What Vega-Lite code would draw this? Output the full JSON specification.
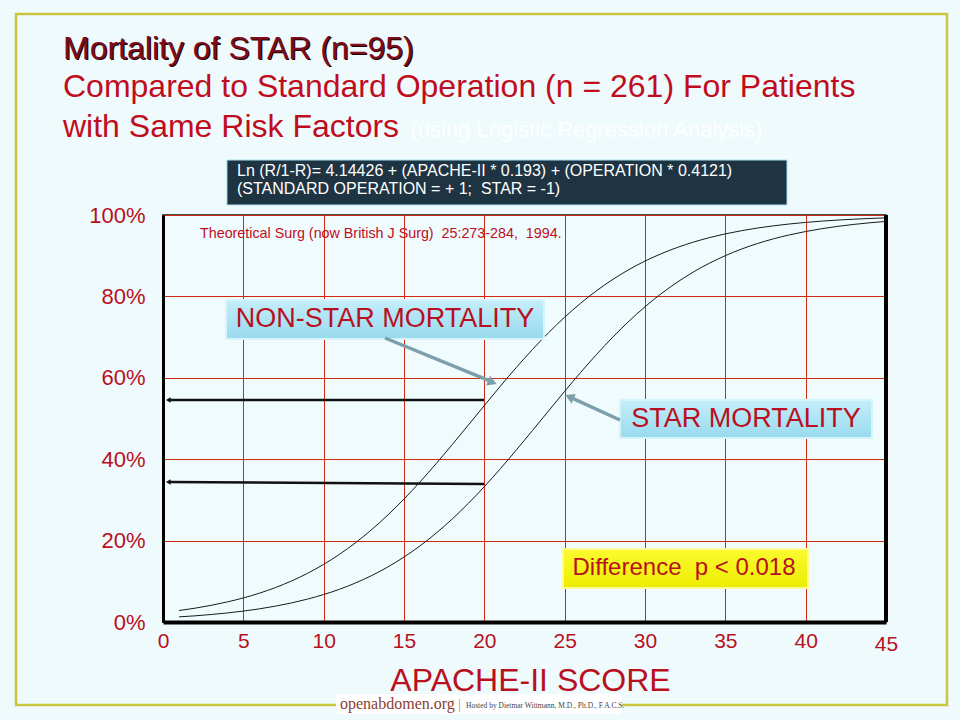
{
  "$schema": "https://vega.github.io/schema/vega-lite/v6.json",
  "width": 723,
  "height": 407,
  "autosize": {"type": "none"},
  "padding": {"left": 163, "top": 215, "right": 74, "bottom": 98},
  "background": "#eefafc",
  "config": {
    "view": {"fill": "#effbfd", "stroke": "#111111", "strokeWidth": 1.5},
    "font": "Liberation Sans",
    "text": {"font": "Liberation Sans"}
  },
  "layer": [
    {
      "data": {"values": [
        {"apache": 1, "series": "NON-STAR", "mortality": 0.0282},
        {"apache": 2, "series": "NON-STAR", "mortality": 0.0340},
        {"apache": 3, "series": "NON-STAR", "mortality": 0.0410},
        {"apache": 4, "series": "NON-STAR", "mortality": 0.0493},
        {"apache": 5, "series": "NON-STAR", "mortality": 0.0591},
        {"apache": 6, "series": "NON-STAR", "mortality": 0.0708},
        {"apache": 7, "series": "NON-STAR", "mortality": 0.0846},
        {"apache": 8, "series": "NON-STAR", "mortality": 0.1008},
        {"apache": 9, "series": "NON-STAR", "mortality": 0.1197},
        {"apache": 10, "series": "NON-STAR", "mortality": 0.1416},
        {"apache": 11, "series": "NON-STAR", "mortality": 0.1667},
        {"apache": 12, "series": "NON-STAR", "mortality": 0.1953},
        {"apache": 13, "series": "NON-STAR", "mortality": 0.2274},
        {"apache": 14, "series": "NON-STAR", "mortality": 0.2630},
        {"apache": 15, "series": "NON-STAR", "mortality": 0.3021},
        {"apache": 16, "series": "NON-STAR", "mortality": 0.3443},
        {"apache": 17, "series": "NON-STAR", "mortality": 0.3891},
        {"apache": 18, "series": "NON-STAR", "mortality": 0.4358},
        {"apache": 19, "series": "NON-STAR", "mortality": 0.4837},
        {"apache": 20, "series": "NON-STAR", "mortality": 0.5319},
        {"apache": 21, "series": "NON-STAR", "mortality": 0.5795},
        {"apache": 22, "series": "NON-STAR", "mortality": 0.6257},
        {"apache": 23, "series": "NON-STAR", "mortality": 0.6697},
        {"apache": 24, "series": "NON-STAR", "mortality": 0.7109},
        {"apache": 25, "series": "NON-STAR", "mortality": 0.7489},
        {"apache": 26, "series": "NON-STAR", "mortality": 0.7834},
        {"apache": 27, "series": "NON-STAR", "mortality": 0.8144},
        {"apache": 28, "series": "NON-STAR", "mortality": 0.8418},
        {"apache": 29, "series": "NON-STAR", "mortality": 0.8659},
        {"apache": 30, "series": "NON-STAR", "mortality": 0.8868},
        {"apache": 31, "series": "NON-STAR", "mortality": 0.9047},
        {"apache": 32, "series": "NON-STAR", "mortality": 0.9201},
        {"apache": 33, "series": "NON-STAR", "mortality": 0.9332},
        {"apache": 34, "series": "NON-STAR", "mortality": 0.9443},
        {"apache": 35, "series": "NON-STAR", "mortality": 0.9536},
        {"apache": 36, "series": "NON-STAR", "mortality": 0.9614},
        {"apache": 37, "series": "NON-STAR", "mortality": 0.9680},
        {"apache": 38, "series": "NON-STAR", "mortality": 0.9734},
        {"apache": 39, "series": "NON-STAR", "mortality": 0.9780},
        {"apache": 40, "series": "NON-STAR", "mortality": 0.9818},
        {"apache": 41, "series": "NON-STAR", "mortality": 0.9849},
        {"apache": 42, "series": "NON-STAR", "mortality": 0.9876},
        {"apache": 43, "series": "NON-STAR", "mortality": 0.9897},
        {"apache": 44, "series": "NON-STAR", "mortality": 0.9915},
        {"apache": 45, "series": "NON-STAR", "mortality": 0.9930},
        {"apache": 1, "series": "STAR", "mortality": 0.0126},
        {"apache": 2, "series": "STAR", "mortality": 0.0152},
        {"apache": 3, "series": "STAR", "mortality": 0.0184},
        {"apache": 4, "series": "STAR", "mortality": 0.0222},
        {"apache": 5, "series": "STAR", "mortality": 0.0268},
        {"apache": 6, "series": "STAR", "mortality": 0.0323},
        {"apache": 7, "series": "STAR", "mortality": 0.0390},
        {"apache": 8, "series": "STAR", "mortality": 0.0469},
        {"apache": 9, "series": "STAR", "mortality": 0.0563},
        {"apache": 10, "series": "STAR", "mortality": 0.0675},
        {"apache": 11, "series": "STAR", "mortality": 0.0806},
        {"apache": 12, "series": "STAR", "mortality": 0.0962},
        {"apache": 13, "series": "STAR", "mortality": 0.1143},
        {"apache": 14, "series": "STAR", "mortality": 0.1354},
        {"apache": 15, "series": "STAR", "mortality": 0.1596},
        {"apache": 16, "series": "STAR", "mortality": 0.1872},
        {"apache": 17, "series": "STAR", "mortality": 0.2183},
        {"apache": 18, "series": "STAR", "mortality": 0.2530},
        {"apache": 19, "series": "STAR", "mortality": 0.2912},
        {"apache": 20, "series": "STAR", "mortality": 0.3326},
        {"apache": 21, "series": "STAR", "mortality": 0.3767},
        {"apache": 22, "series": "STAR", "mortality": 0.4230},
        {"apache": 23, "series": "STAR", "mortality": 0.4707},
        {"apache": 24, "series": "STAR", "mortality": 0.5189},
        {"apache": 25, "series": "STAR", "mortality": 0.5668},
        {"apache": 26, "series": "STAR", "mortality": 0.6134},
        {"apache": 27, "series": "STAR", "mortality": 0.6580},
        {"apache": 28, "series": "STAR", "mortality": 0.7001},
        {"apache": 29, "series": "STAR", "mortality": 0.7390},
        {"apache": 30, "series": "STAR", "mortality": 0.7745},
        {"apache": 31, "series": "STAR", "mortality": 0.8064},
        {"apache": 32, "series": "STAR", "mortality": 0.8347},
        {"apache": 33, "series": "STAR", "mortality": 0.8597},
        {"apache": 34, "series": "STAR", "mortality": 0.8814},
        {"apache": 35, "series": "STAR", "mortality": 0.9001},
        {"apache": 36, "series": "STAR", "mortality": 0.9162},
        {"apache": 37, "series": "STAR", "mortality": 0.9299},
        {"apache": 38, "series": "STAR", "mortality": 0.9415},
        {"apache": 39, "series": "STAR", "mortality": 0.9512},
        {"apache": 40, "series": "STAR", "mortality": 0.9594},
        {"apache": 41, "series": "STAR", "mortality": 0.9663},
        {"apache": 42, "series": "STAR", "mortality": 0.9721},
        {"apache": 43, "series": "STAR", "mortality": 0.9769},
        {"apache": 44, "series": "STAR", "mortality": 0.9809},
        {"apache": 45, "series": "STAR", "mortality": 0.9842}
      ]},
      "mark": {"type": "line", "color": "#1a1a1a", "strokeWidth": 1, "interpolate": "monotone"},
      "encoding": {
        "x": {
          "field": "apache", "type": "quantitative",
          "scale": {"domain": [0, 45], "nice": false, "zero": false},
          "axis": {
            "grid": true,
            "values": [0, 5, 10, 15, 20, 25, 30, 35, 40, 45],
            "title": "APACHE-II SCORE",
            "titleFont": "Liberation Sans", "titleFontSize": 32, "titleFontWeight": "normal",
            "titleColor": "#b8101e", "titleX": 367, "titleY": 68, "titleBaseline": "alphabetic", "titleAlign": "center",
            "labelFont": "Liberation Sans", "labelFontSize": 21, "labelColor": "#b8101e",
            "labelPadding": {"condition": {"test": "datum.value == 45", "value": 11}, "value": 8},
            "labelFlush": false, "labelOverlap": false,
            "ticks": false, "domainColor": "#000000", "domainWidth": 4,
            "gridColor": "#cf2b12", "gridWidth": 1, "gridOpacity": 1
          }
        },
        "y": {
          "field": "mortality", "type": "quantitative",
          "scale": {"domain": [0, 1], "nice": false, "zero": false},
          "axis": {
            "grid": true,
            "values": [0, 0.2, 0.4, 0.6, 0.8, 1],
            "format": ".0%",
            "title": null,
            "labelFont": "Liberation Sans", "labelFontSize": 22, "labelColor": "#b8101e",
            "labelPadding": 18, "labelFlush": false, "labelOverlap": false,
            "ticks": false, "domainColor": "#000000", "domainWidth": 3,
            "gridColor": "#cf2b12", "gridWidth": 1, "gridOpacity": 1
          }
        },
        "detail": {"field": "series", "type": "nominal"}
      }
    },
    {
      "data": {"values": [{}]},
      "mark": {"type": "rect", "fill": null, "stroke": "#c9c63e", "strokeWidth": 2.5},
      "encoding": {"x": {"datum": -9.149}, "x2": {"datum": 48.796}, "y": {"datum": 1.4939}, "y2": {"datum": -0.2039}}
    },
    {
      "data": {"values": [{}]},
      "mark": {"type": "rule", "color": "#000000", "strokeWidth": 4},
      "encoding": {"x": {"datum": 45}, "y": {"datum": 0}, "y2": {"datum": 1}}
    },
    {
      "data": {"values": [{}]},
      "mark": {"type": "rule", "color": "#111111", "strokeWidth": 2.5},
      "encoding": {"x": {"datum": 0.35}, "x2": {"datum": 19.98}, "y": {"datum": 0.5455}, "y2": {"datum": 0.5455}}
    },
    {
      "data": {"values": [{}]},
      "mark": {"type": "rule", "color": "#111111", "strokeWidth": 2.5},
      "encoding": {"x": {"datum": 0.35}, "x2": {"datum": 19.98}, "y": {"datum": 0.344}, "y2": {"datum": 0.339}}
    },
    {
      "data": {"values": [{}]},
      "mark": {"type": "point", "shape": "triangle-left", "filled": true, "color": "#111111", "size": 30, "opacity": 1},
      "encoding": {"x": {"datum": 0.33}, "y": {"datum": 0.5455}}
    },
    {
      "data": {"values": [{}]},
      "mark": {"type": "point", "shape": "triangle-left", "filled": true, "color": "#111111", "size": 30, "opacity": 1},
      "encoding": {"x": {"datum": 0.33}, "y": {"datum": 0.344}}
    },
    {
      "data": {"values": [{}]},
      "mark": {"type": "rect", "fill": "#1f3443", "stroke": "#a9e4f2", "strokeWidth": 1},
      "encoding": {"x": {"datum": 3.98}, "x2": {"datum": 38.84}, "y": {"datum": 1.1351}, "y2": {"datum": 1.0246}}
    },
    {
      "data": {"values": [{}]},
      "mark": {"type": "text", "text": "Ln (R/1-R)= 4.14426 + (APACHE-II * 0.193) + (OPERATION * 0.4121)", "align": "left", "baseline": "alphabetic", "fontSize": 16, "color": "#ffffff"},
      "encoding": {"x": {"datum": 4.606}, "y": {"datum": 1.0958}}
    },
    {
      "data": {"values": [{}]},
      "mark": {"type": "text", "text": "(STANDARD OPERATION = + 1;\u00a0 STAR = -1)", "align": "left", "baseline": "alphabetic", "fontSize": 16, "color": "#ffffff"},
      "encoding": {"x": {"datum": 4.606}, "y": {"datum": 1.0516}}
    },
    {
      "data": {"values": [{}]},
      "mark": {"type": "text", "text": "Mortality of STAR (n=95)", "align": "left", "baseline": "alphabetic", "fontSize": 32, "color": "#1a0000", "dx": 1.2, "dy": 1.2},
      "encoding": {"x": {"datum": -6.224}, "y": {"datum": 1.3833}}
    },
    {
      "data": {"values": [{}]},
      "mark": {"type": "text", "text": "Mortality of STAR (n=95)", "align": "left", "baseline": "alphabetic", "fontSize": 32, "color": "#7e0c1c"},
      "encoding": {"x": {"datum": -6.224}, "y": {"datum": 1.3833}}
    },
    {
      "data": {"values": [{}]},
      "mark": {"type": "text", "text": "Compared to Standard Operation (n = 261) For Patients", "align": "left", "baseline": "alphabetic", "fontSize": 32, "color": "#c00d1e"},
      "encoding": {"x": {"datum": -6.224}, "y": {"datum": 1.2899}}
    },
    {
      "data": {"values": [{}]},
      "mark": {"type": "text", "text": "with Same Risk Factors", "align": "left", "baseline": "alphabetic", "fontSize": 32, "color": "#c00d1e"},
      "encoding": {"x": {"datum": -6.224}, "y": {"datum": 1.1916}}
    },
    {
      "data": {"values": [{}]},
      "mark": {"type": "text", "text": "(using Logistic Regression Analysis)", "align": "left", "baseline": "alphabetic", "fontSize": 22, "color": "#ffffff"},
      "encoding": {"x": {"datum": 15.4}, "y": {"datum": 1.1916}}
    },
    {
      "data": {"values": [{}]},
      "mark": {"type": "text", "text": "Theoretical Surg (now British J Surg)\u00a0 25:273-284,\u00a0 1994.", "align": "left", "baseline": "alphabetic", "fontSize": 14.3, "color": "#c00d1e"},
      "encoding": {"x": {"datum": 2.303}, "y": {"datum": 0.9435}}
    },
    {
      "data": {"values": [{}]},
      "mark": {"type": "rect", "fill": "#7a9aa6", "opacity": 0.35, "xOffset": 3, "yOffset": 3},
      "encoding": {"x": {"datum": 3.921}, "x2": {"datum": 23.713}, "y": {"datum": 0.7912}, "y2": {"datum": 0.6953}}
    },
    {
      "data": {"values": [{}]},
      "mark": {"type": "rect", "stroke": "#d6f4fb", "strokeWidth": 2,
        "fill": {"gradient": "linear", "x1": 0, "y1": 0, "x2": 0, "y2": 1, "stops": [{"offset": 0, "color": "#c4eefa"}, {"offset": 1, "color": "#98daee"}]}},
      "encoding": {"x": {"datum": 3.921}, "x2": {"datum": 23.713}, "y": {"datum": 0.7912}, "y2": {"datum": 0.6953}}
    },
    {
      "data": {"values": [{}]},
      "mark": {"type": "text", "text": "NON-STAR MORTALITY", "align": "center", "baseline": "middle", "fontSize": 27, "color": "#b8101e"},
      "encoding": {"x": {"datum": 13.817}, "y": {"datum": 0.7445}}
    },
    {
      "data": {"values": [{}]},
      "mark": {"type": "rect", "fill": "#7a9aa6", "opacity": 0.35, "xOffset": 3, "yOffset": 3},
      "encoding": {"x": {"datum": 28.44}, "x2": {"datum": 44.13}, "y": {"datum": 0.5455}, "y2": {"datum": 0.4521}}
    },
    {
      "data": {"values": [{}]},
      "mark": {"type": "rect", "stroke": "#d6f4fb", "strokeWidth": 2,
        "fill": {"gradient": "linear", "x1": 0, "y1": 0, "x2": 0, "y2": 1, "stops": [{"offset": 0, "color": "#c4eefa"}, {"offset": 1, "color": "#98daee"}]}},
      "encoding": {"x": {"datum": 28.44}, "x2": {"datum": 44.13}, "y": {"datum": 0.5455}, "y2": {"datum": 0.4521}}
    },
    {
      "data": {"values": [{}]},
      "mark": {"type": "text", "text": "STAR MORTALITY", "align": "center", "baseline": "middle", "fontSize": 27, "color": "#b8101e"},
      "encoding": {"x": {"datum": 36.29}, "y": {"datum": 0.4988}}
    },
    {
      "data": {"values": [{}]},
      "mark": {"type": "rule", "color": "#7d9fac", "strokeWidth": 3.5},
      "encoding": {"x": {"datum": 13.817}, "x2": {"datum": 20.3}, "y": {"datum": 0.6978}, "y2": {"datum": 0.593}}
    },
    {
      "data": {"values": [{}]},
      "mark": {"type": "point", "shape": "triangle-right", "angle": 22, "filled": true, "color": "#7d9fac", "size": 110, "opacity": 1},
      "encoding": {"x": {"datum": 20.5}, "y": {"datum": 0.589}}
    },
    {
      "data": {"values": [{}]},
      "mark": {"type": "rule", "color": "#7d9fac", "strokeWidth": 3.5},
      "encoding": {"x": {"datum": 28.44}, "x2": {"datum": 25.5}, "y": {"datum": 0.4963}, "y2": {"datum": 0.5495}}
    },
    {
      "data": {"values": [{}]},
      "mark": {"type": "point", "shape": "triangle-left", "angle": 24, "filled": true, "color": "#7d9fac", "size": 110, "opacity": 1},
      "encoding": {"x": {"datum": 25.3}, "y": {"datum": 0.553}}
    },
    {
      "data": {"values": [{}]},
      "mark": {"type": "rect", "fill": "#8f8f40", "opacity": 0.3, "xOffset": 3, "yOffset": 3},
      "encoding": {"x": {"datum": 24.896}, "x2": {"datum": 40.145}, "y": {"datum": 0.1794}, "y2": {"datum": 0.0835}}
    },
    {
      "data": {"values": [{}]},
      "mark": {"type": "rect", "stroke": "#fbfb9a", "strokeWidth": 2,
        "fill": {"gradient": "linear", "x1": 0, "y1": 0, "x2": 0, "y2": 1, "stops": [{"offset": 0, "color": "#fbfb30"}, {"offset": 1, "color": "#ecec00"}]}},
      "encoding": {"x": {"datum": 24.896}, "x2": {"datum": 40.145}, "y": {"datum": 0.1794}, "y2": {"datum": 0.0835}}
    },
    {
      "data": {"values": [{}]},
      "mark": {"type": "text", "text": "Difference\u00a0 p < 0.018", "align": "center", "baseline": "middle", "fontSize": 24, "color": "#b8101e"},
      "encoding": {"x": {"datum": 32.43}, "y": {"datum": 0.1327}}
    },
    {
      "data": {"values": [{}]},
      "mark": {"type": "rect", "fill": "#ffffff"},
      "encoding": {"x": {"datum": 10.767}, "x2": {"datum": 28.568}, "y": {"datum": -0.1769}, "y2": {"datum": -0.226}}
    },
    {
      "data": {"values": [{}]},
      "mark": {"type": "text", "text": "openabdomen.org", "align": "left", "baseline": "alphabetic", "font": "Liberation Serif", "fontSize": 16, "color": "#8a4030"},
      "encoding": {"x": {"datum": 11.017}, "y": {"datum": -0.2138}}
    },
    {
      "data": {"values": [{}]},
      "mark": {"type": "text", "text": "|", "align": "left", "baseline": "alphabetic", "font": "Liberation Serif", "fontSize": 14, "color": "#999999"},
      "encoding": {"x": {"datum": 18.36}, "y": {"datum": -0.2138}}
    },
    {
      "data": {"values": [{}]},
      "mark": {"type": "text", "text": "Hosted by Dietmar Wittmann, M.D., Ph.D., F.A.C.S.", "align": "left", "baseline": "alphabetic", "font": "Liberation Serif", "fontSize": 7.5, "color": "#444444"},
      "encoding": {"x": {"datum": 18.86}, "y": {"datum": -0.2113}}
    }
  ]
}
